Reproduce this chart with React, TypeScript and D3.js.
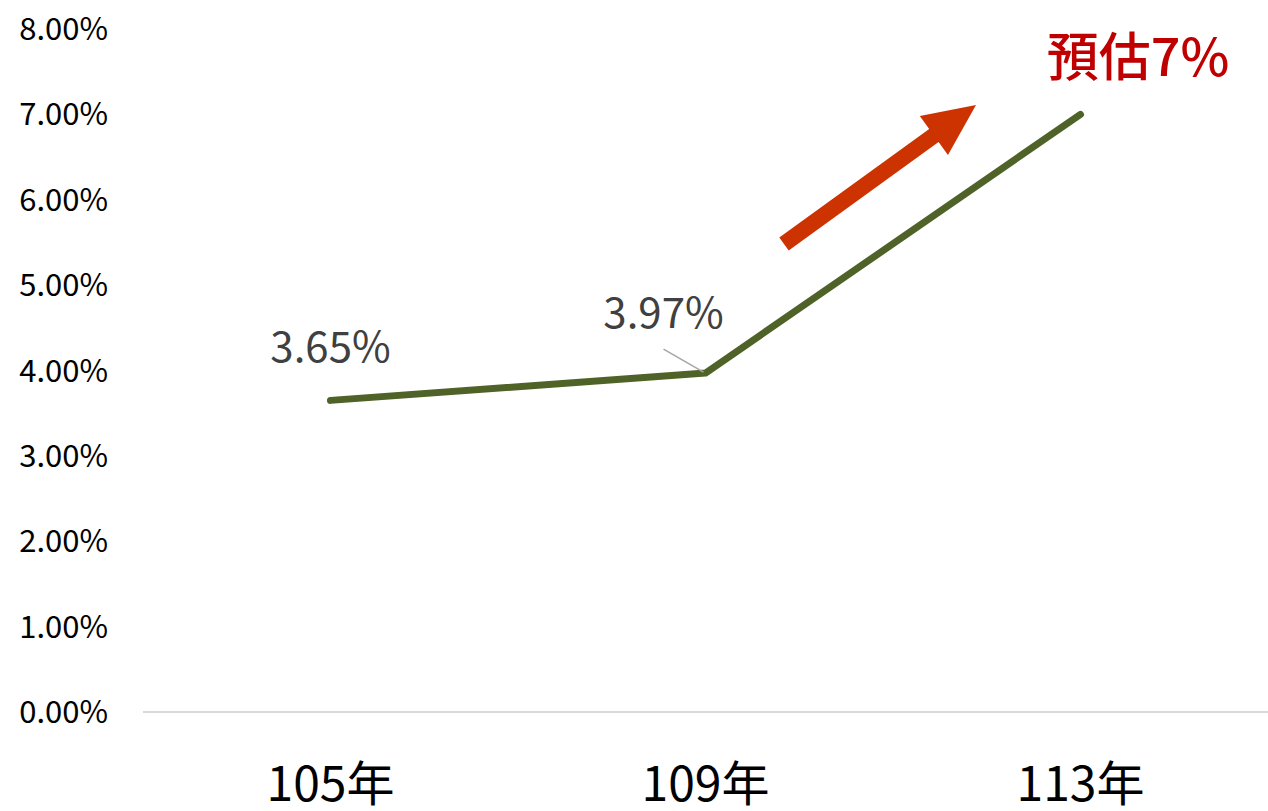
import React from 'react';
import * as d3 from 'd3';

const categories = ['105年', '109年', '113年'];
const values = [0.0365, 0.0397, 0.07];
const yTicks = [0, 0.01, 0.02, 0.03, 0.04, 0.05, 0.06, 0.07, 0.08];
const dataLabels = ['3.65%', '3.97%', ''];

const W = 1268;
const H = 811;
const FONT = '"Noto Sans CJK TC", "Noto Sans", sans-serif';

const App: React.FC = () => {
  const x = d3.scaleBand<string>().domain(categories).range([143, 1268]);
  const y = d3.scaleLinear().domain([0, 0.08]).range([712, 29]);
  const cx = (c: string) => (x(c) as number) + x.bandwidth() / 2;

  const line = d3.line<number>()
    .x((_, i) => cx(categories[i]))
    .y((d) => y(d));

  // trend arrow (annotation)
  const a0: [number, number] = [784, 244];
  const a1: [number, number] = [976, 105];
  const ang = Math.atan2(a1[1] - a0[1], a1[0] - a0[0]);
  const headLen = 52;
  const headHalf = 24;
  const shaftHalf = 8;
  const ux = Math.cos(ang), uy = Math.sin(ang);
  const nx = -uy, ny = ux;
  const hb: [number, number] = [a1[0] - ux * headLen, a1[1] - uy * headLen];
  const arrowPts: [number, number][] = [
    [a0[0] + nx * shaftHalf, a0[1] + ny * shaftHalf],
    [hb[0] + nx * shaftHalf, hb[1] + ny * shaftHalf],
    [hb[0] + nx * headHalf, hb[1] + ny * headHalf],
    a1,
    [hb[0] - nx * headHalf, hb[1] - ny * headHalf],
    [hb[0] - nx * shaftHalf, hb[1] - ny * shaftHalf],
    [a0[0] - nx * shaftHalf, a0[1] - ny * shaftHalf],
  ];

  return (
    <svg width={W} height={H} style={{ position: 'absolute', left: 0, top: 0, background: '#fff' }}>
      {yTicks.map((t) => (
        <text key={t} x={108} y={y(t) + 11} textAnchor="end" fontFamily={FONT} fontSize={31} fontWeight={400} fill="#000">
          {(t * 100).toFixed(2)}%
        </text>
      ))}
      <line x1={143} x2={1268} y1={y(0)} y2={y(0)} stroke="#d9d9d9" strokeWidth={2} />
      {categories.map((c) => (
        <text key={c} x={cx(c)} y={801} textAnchor="middle" fontFamily={FONT} fontSize={48} fontWeight={400} fill="#000">
          {c}
        </text>
      ))}
      <path d={line(values) || ''} fill="none" stroke="#4f6228" strokeWidth={7} strokeLinecap="round" strokeLinejoin="round" />
      {/* leader line for 109 label */}
      <line x1={cx(categories[1]) - 42} y1={y(values[1]) - 24} x2={cx(categories[1]) - 2} y2={y(values[1]) - 1} stroke="#a6a6a6" strokeWidth={1.5} />
      <text x={cx(categories[0])} y={y(values[0]) - 38} textAnchor="middle" fontFamily={FONT} fontSize={42} fill="#404040">
        {dataLabels[0]}
      </text>
      <text x={cx(categories[1]) - 42} y={y(values[1]) - 45} textAnchor="middle" fontFamily={FONT} fontSize={42} fill="#404040">
        {dataLabels[1]}
      </text>
      <polygon points={arrowPts.map((p) => p.join(',')).join(' ')} fill="#cc3300" />
      <text x={1138} y={76} textAnchor="middle" fontFamily={FONT} fontSize={52} fontWeight={500} fill="#c00000">
        預估7%
      </text>
    </svg>
  );
};

export default App;
